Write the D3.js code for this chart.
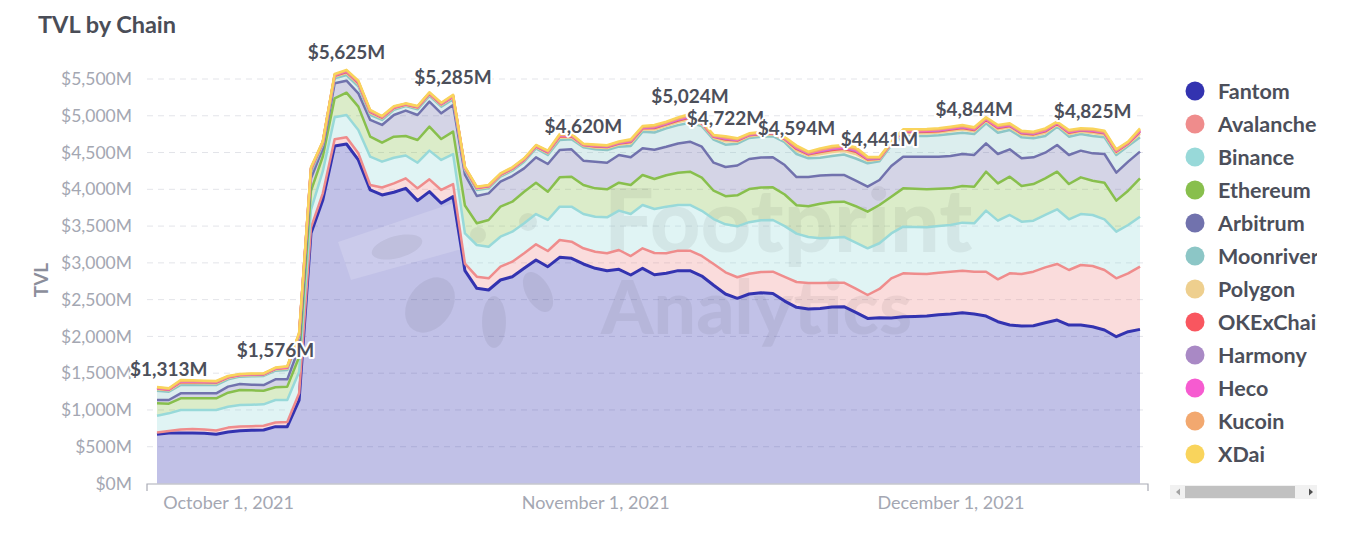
<!DOCTYPE html>
<html><head><meta charset="utf-8">
<script src="https://cdn.jsdelivr.net/npm/d3@7"></script>
<style>
html,body{margin:0;padding:0;background:#fff;}
svg{display:block;font-family:Lato,"Open Sans",sans-serif;}
</style></head><body>
<svg id="chart" width="1355" height="539"></svg>
<script>
// ---------- data ----------
const seriesNames = ["Fantom","Avalanche","Binance","Ethereum","Arbitrum","Moonriver","Polygon","OKExChain","Harmony","Heco","Kucoin","XDai"];
const seriesColors = ["#3333b0","#ef8c8c","#98d9d9","#88bf4d","#7172ad","#8cc6c6","#eecf8e","#f9565f","#a989c5","#f65bd0","#f2a86f","#f9d45c"];

const startDate = new Date(2021, 8, 25);
const endDate = new Date(2021, 11, 18);
const dates = d3.timeDay.range(startDate, endDate); // Sep 25 .. Dec 17, 2021

const fantom = [669,687,687,687,683,669,700,718,723,727,773,773,1135,3402,3855,4589,4616,4399,3991,3923,3960,4013,3846,3968,3810,3900,2894,2654,2631,2767,2812,2926,3039,2948,3075,3062,2985,2926,2894,2912,2835,2926,2839,2858,2894,2894,2821,2695,2577,2518,2577,2594,2585,2480,2395,2373,2381,2400,2404,2327,2245,2254,2250,2268,2272,2277,2295,2304,2322,2304,2277,2200,2155,2141,2146,2186,2222,2155,2155,2132,2087,1996,2064,2096];
const avalanche = [26,27,48,53,52,51,60,57,57,58,57,62,91,78,91,91,91,91,68,102,120,136,167,168,181,172,96,158,159,181,204,204,213,213,236,226,213,226,236,263,258,272,295,272,272,272,273,290,294,286,274,282,295,330,345,354,346,331,327,322,318,391,540,590,581,572,572,576,572,576,603,576,703,708,734,753,763,748,816,825,816,794,794,852];
const binance = [227,240,264,259,264,279,284,292,291,291,305,300,294,240,300,299,303,317,385,351,350,311,349,390,408,408,410,431,430,408,408,408,412,422,453,476,466,476,489,535,571,589,598,634,621,621,614,611,653,693,702,702,703,690,657,625,607,612,621,625,635,622,610,634,635,634,634,635,653,658,830,798,793,711,694,712,743,689,693,694,689,634,657,680];
const ethereum = [168,131,159,159,159,159,191,204,196,186,173,182,200,260,200,258,304,317,272,258,285,265,309,326,285,304,380,295,363,408,408,430,426,385,399,408,395,385,381,380,395,408,408,428,439,453,452,385,382,421,451,446,444,430,386,418,471,484,480,496,498,520,500,521,521,517,508,498,498,498,530,507,521,485,498,498,512,480,499,466,498,422,466,521];
const arbitrum = [45,50,68,68,68,68,82,82,77,77,108,99,130,170,110,204,163,181,227,241,295,345,339,340,349,362,420,371,362,340,349,317,345,376,372,372,331,363,362,377,376,362,397,386,398,408,420,381,397,406,408,408,408,400,384,398,384,368,363,347,340,340,417,431,435,444,435,440,435,431,385,399,372,376,363,349,363,395,363,372,390,380,395,363];
const moonriver = [127,114,113,113,113,113,99,100,113,123,118,127,140,80,50,68,77,95,68,68,70,63,78,78,91,78,60,82,68,68,73,91,122,123,136,136,181,168,173,113,154,227,235,251,249,258,279,313,304,296,286,282,288,310,313,253,239,257,278,302,317,253,283,281,281,281,290,299,290,285,272,290,263,286,258,227,249,249,226,236,227,241,213,195];
const polygon = [20,18,27,26,24,22,18,14,15,14,17,21,24,28,20,24,28,31,27,22,20,14,18,20,22,24,19,18,18,18,18,18,18,24,32,29,20,26,26,28,36,30,41,36,42,47,26,26,46,29,25,26,27,28,46,36,52,55,52,61,36,24,19,36,36,38,38,40,42,37,33,42,36,36,36,42,27,36,31,40,36,31,24,49];
const okexchain = [10,9,14,13,12,11,9,7,7,7,8,10,12,14,10,12,14,15,14,11,10,7,9,10,11,12,10,9,9,9,9,9,9,12,16,14,10,13,13,14,18,15,21,18,21,24,13,13,23,15,13,13,13,14,23,18,26,27,26,30,18,12,10,18,18,19,19,20,21,18,16,21,18,18,18,21,14,18,15,20,18,15,12,24];
const harmony = [5,5,7,6,6,6,5,4,4,4,4,5,6,7,5,6,7,8,7,5,5,4,5,5,5,6,5,5,5,5,5,5,5,6,8,7,5,7,7,7,9,8,10,9,11,12,7,7,12,7,6,7,7,7,11,9,13,14,13,15,9,6,5,9,9,10,10,10,11,9,8,11,9,9,9,10,7,9,8,10,9,8,6,12];
const heco = [3,2,3,3,3,3,2,2,2,2,2,3,3,4,2,3,4,4,3,3,2,2,2,2,3,3,2,2,2,2,2,2,2,3,4,4,2,3,3,4,5,4,5,5,5,6,3,3,6,4,3,3,3,4,6,5,6,7,7,8,5,3,2,5,5,5,5,5,5,5,4,5,5,5,5,5,3,5,4,5,5,4,3,6];
const kucoin = [5,5,7,6,6,6,5,4,4,4,4,5,6,7,5,6,7,8,7,5,5,4,5,5,5,6,5,5,5,5,5,5,5,6,8,7,5,7,7,7,9,8,10,9,11,12,7,7,12,7,6,7,7,7,11,9,13,14,13,15,9,6,5,9,9,10,10,10,11,9,8,11,9,9,9,10,7,9,8,10,9,8,6,12];
const xdai = [8,6,10,10,8,7,7,5,5,5,7,8,9,10,7,8,11,11,10,8,8,5,6,8,8,10,7,6,7,6,6,6,7,8,13,11,7,10,9,10,14,11,16,14,15,17,10,9,16,11,10,10,10,10,17,14,19,20,19,23,14,10,7,14,14,13,13,15,15,14,13,15,13,13,14,16,10,14,11,15,13,11,8,19];

const seriesValues = [fantom,avalanche,binance,ethereum,arbitrum,moonriver,polygon,okexchain,harmony,heco,kucoin,xdai];

const labelIndex = [0,10,16,25,36,45,48,54,61,69,79];
const labelValues = [1313,1576,5625,5285,4620,5024,4722,4594,4441,4844,4825];

const yTicks = [0,500,1000,1500,2000,2500,3000,3500,4000,4500,5000,5500];
const xTicks = [new Date(2021,9,1), new Date(2021,10,1), new Date(2021,11,1)];

// ---------- build ----------
const svg = d3.select("#chart");
const table = dates.map((d,i)=>{
  const o = {date:d};
  seriesNames.forEach((n,k)=>{ o[n] = seriesValues[k][i]; });
  return o;
});
const stacked = d3.stack().keys(seriesNames)(table);

const x = d3.scaleTime().domain([dates[0], dates[dates.length-1]]).range([157,1140]);
const y = d3.scaleLinear().domain([0,5500]).range([483.5,79]);

// title
svg.append("text").attr("x",38).attr("y",33).text("TVL by Chain")
  .attr("font-size",23.5).attr("font-weight",700).attr("fill","#4a4d57");

// gridlines
svg.append("g").selectAll("line").data(yTicks.filter(t=>t>0)).join("line")
  .attr("x1",147).attr("x2",1148).attr("y1",d=>y(d)).attr("y2",d=>y(d))
  .attr("stroke","#e3e4e9").attr("stroke-dasharray","6,5");

// y axis labels
const yAxis = svg.append("g").attr("transform","translate(147,0)")
  .call(d3.axisLeft(y).tickValues(yTicks).tickSize(0).tickPadding(15).tickFormat(d=>"$"+d3.format(",")(d)+"M"));
yAxis.select(".domain").remove();
yAxis.selectAll("text").attr("font-size",17.5).attr("fill","#a4a7b2").attr("font-family","Lato");

svg.append("text").attr("transform","translate(48,280) rotate(-90)")
  .attr("text-anchor","middle").text("TVL")
  .attr("font-size",19).attr("font-weight",700).attr("fill","#8b8e9b");

// areas
const area = d3.area().x(d=>x(d.data.date)).y0(d=>y(d[0])).y1(d=>y(d[1]));
svg.append("g").selectAll("path").data(stacked).join("path")
  .attr("d",area).attr("fill",(d,i)=>seriesColors[i]).attr("fill-opacity",0.3);

// watermark (logo shapes + text)
const wm = svg.append("g");
wm.append("path").attr("d","M338,242L456,202L469,247L351,280Z").attr("fill","#fff").attr("fill-opacity",0.16);
const blobs = [[397,247,26,11,-15],[430,305,22,30,35],[494,322,12,26,0],[538,292,12,22,-30],[528,222,9,9,0],[478,235,8,8,0]];
wm.selectAll("ellipse").data(blobs).join("ellipse")
  .attr("cx",d=>d[0]).attr("cy",d=>d[1]).attr("rx",d=>d[2]).attr("ry",d=>d[3])
  .attr("transform",d=>`rotate(${d[4]},${d[0]},${d[1]})`)
  .attr("fill","#000").attr("fill-opacity",0.06);
wm.append("text").attr("x",604).attr("y",252).attr("font-size",88).attr("font-weight",900)
  .attr("fill","#000").attr("fill-opacity",0.055).text("Footprint");
wm.append("text").attr("x",601).attr("y",334).attr("font-size",75).attr("font-weight",900)
  .attr("fill","#000").attr("fill-opacity",0.055).text("Analytics");

// lines
const line = d3.line().x(d=>x(d.data.date)).y(d=>y(d[1]));
svg.append("g").selectAll("path").data(stacked).join("path")
  .attr("d",line).attr("fill","none").attr("stroke",(d,i)=>seriesColors[i])
  .attr("stroke-width",(d,i)=>i===0?3:2.5).attr("stroke-linejoin","round");

// x axis
svg.append("path").attr("d","M147,491V484H1148V491").attr("fill","none").attr("stroke","#a9abb5").attr("stroke-width",1.2);
const xAxis = svg.append("g").attr("transform","translate(0,484)")
  .call(d3.axisBottom(x).tickValues(xTicks).tickSize(0).tickPadding(12).tickFormat(d3.timeFormat("%B %-d, %Y")));
xAxis.select(".domain").remove();
xAxis.selectAll("text").attr("font-size",18).attr("fill","#a4a7b2").attr("font-family","Lato");

// data labels
const totals = dates.map((d,i)=>stacked[stacked.length-1][i][1]);
const lg = svg.append("g");
labelIndex.forEach((idx,k)=>{
  const t = lg.append("text")
    .attr("x",x(dates[idx])).attr("y",y(totals[idx])-11)
    .attr("text-anchor","middle").attr("font-size",19).attr("font-weight",700)
    .attr("fill","#4c4f5a").attr("stroke","#fff").attr("stroke-width",4)
    .attr("stroke-linejoin","round").attr("paint-order","stroke")
    .text("$"+d3.format(",")(labelValues[k])+"M");
  const w = t.node().getComputedTextLength();
  const cx = x(dates[idx]);
  if (cx - w/2 < 130) t.attr("x",130 + w/2);
});

// legend
svg.append("clipPath").attr("id","legclip").append("rect").attr("x",1170).attr("y",60).attr("width",147).attr("height",420);
const leg = svg.append("g").attr("clip-path","url(#legclip)");
seriesNames.forEach((n,k)=>{
  const cy = 91 + 33*k;
  leg.append("circle").attr("cx",1195).attr("cy",cy).attr("r",9.5).attr("fill",seriesColors[k]);
  leg.append("text").attr("x",1218).attr("y",cy).attr("dy","0.35em").text(n)
    .attr("font-size",21.5).attr("font-weight",700).attr("fill","#4c4f5a");
});

// scrollbar
svg.append("rect").attr("x",1170).attr("y",485).attr("width",147).attr("height",14).attr("fill","#f1f1f1");
svg.append("rect").attr("x",1185).attr("y",486).attr("width",110).attr("height",12).attr("fill","#c1c1c1");
svg.append("path").attr("d","M1176,492L1180,488.5V495.5Z").attr("fill","#a3a3a3");
svg.append("path").attr("d","M1313,492L1309,488.5V495.5Z").attr("fill","#505050");
</script>
</body></html>
